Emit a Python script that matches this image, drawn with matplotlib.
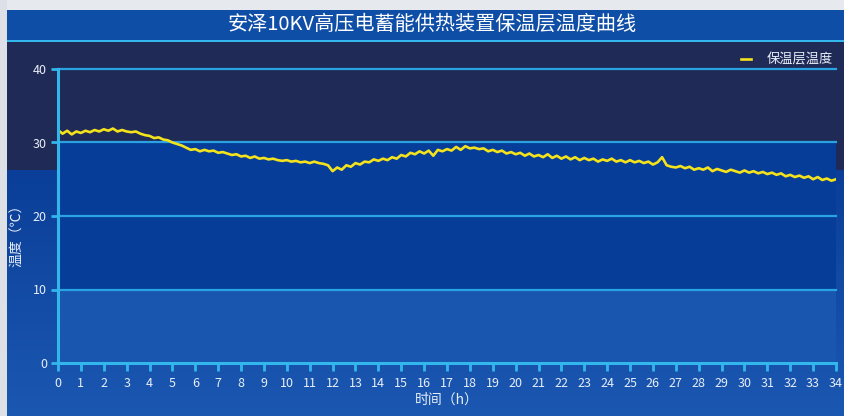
import numpy as np
import matplotlib
matplotlib.use("Agg")
import matplotlib.pyplot as plt
from matplotlib.colors import to_rgb

plt.rcParams['font.family'] = ['Noto Sans CJK SC', 'DejaVu Sans']

# ---- data -------------------------------------------------------------
title = "安泽10KV高压电蓄能供热装置保温层温度曲线"
series_name = "保温层温度"
x_label = "时间（h）"
y_label = "温度（℃）"

hours = [round(i * 0.2, 1) for i in range(171)]
temperature = [
    31.7, 31.2, 31.6, 31.1, 31.5, 31.3, 31.6, 31.4, 31.7, 31.5,
    31.8, 31.6, 31.9, 31.5, 31.7, 31.5, 31.4, 31.5, 31.2, 31.0,
    30.9, 30.6, 30.7, 30.4, 30.3, 30.0, 29.8, 29.6, 29.3, 29.0,
    29.1, 28.8, 29.0, 28.8, 28.9, 28.6, 28.7, 28.5, 28.3, 28.4,
    28.1, 28.2, 27.9, 28.1, 27.8, 27.9, 27.7, 27.8, 27.6, 27.5,
    27.6, 27.4, 27.5, 27.3, 27.4, 27.2, 27.4, 27.2, 27.1, 26.9,
    26.1, 26.6, 26.3, 26.9, 26.7, 27.2, 27.0, 27.4, 27.3, 27.7,
    27.5, 27.8, 27.6, 28.0, 27.8, 28.3, 28.1, 28.6, 28.4, 28.8,
    28.5, 28.9, 28.2, 29.0, 28.8, 29.1, 28.9, 29.4, 29.0, 29.5,
    29.2, 29.3, 29.1, 29.2, 28.8, 29.0, 28.7, 28.9, 28.5, 28.7,
    28.4, 28.6, 28.2, 28.5, 28.1, 28.3, 28.0, 28.4, 27.9, 28.2,
    27.8, 28.1, 27.7, 28.0, 27.6, 27.9, 27.6, 27.8, 27.4, 27.7,
    27.5, 27.8, 27.4, 27.6, 27.3, 27.6, 27.3, 27.5, 27.2, 27.4,
    27.0, 27.3, 28.0, 26.9, 26.7, 26.6, 26.8, 26.5, 26.7, 26.3,
    26.5, 26.3, 26.6, 26.1, 26.4, 26.2, 26.0, 26.3, 26.1, 25.9,
    26.2, 25.9, 26.1, 25.8, 26.0, 25.7, 25.9, 25.6, 25.8, 25.4,
    25.6, 25.3, 25.5, 25.2, 25.4, 25.0, 25.3, 24.9, 25.1, 24.8,
    25.0,
]
x_ticks = list(range(0, 35))
y_ticks = [0, 10, 20, 30, 40]

# ---- colours ----------------------------------------------------------
NAVY = "#1f2a56"
BLUE_MID = "#053d99"
BLUE_LOW = "#1856af"
CYAN = "#33b6ec"
GRID = "#2aa3e2"
LINE = "#f4e21c"
TEXT = "#e8eef8"

W, H = 844, 416
fig = plt.figure(figsize=(W / 100, H / 100), dpi=100)

# ---- page background --------------------------------------------------
bg = np.zeros((H, W, 3))
bg[:] = to_rgb(NAVY)
top_blue = np.array(to_rgb("#0a3e98"))
bot_blue = np.array(to_rgb("#1b58b2"))
rows = np.arange(170, H)
t = ((rows - 170) / (H - 170))[:, None]
bg[170:, :, :] = (top_blue * (1 - t) + bot_blue * t)[:, None, :]
bg[10:40, 7:, :] = to_rgb("#0f4ea6")          # title bar
bg[40:42, 7:, :] = to_rgb(CYAN)               # title underline
bg[:10, :, :] = to_rgb("#e6e9ee")              # page margin
bg[:, :7, :] = to_rgb("#dde1e7")

bg_ax = fig.add_axes([0, 0, 1, 1])
bg_ax.imshow(bg, aspect="auto", extent=[0, W, H, 0], interpolation="nearest")
bg_ax.set_axis_off()

fig.text(0.512, 1 - 24 / H, title, ha="center", va="center",
         color="white", fontsize=14.5)

# ---- plot area --------------------------------------------------------
ax = fig.add_axes([58 / W, (H - 363) / H, (836 - 58) / W, (363 - 69) / H])
ax.set_facecolor("none")
ax.set_xlim(0, 34)
ax.set_ylim(0, 40)

ax.axhspan(30, 40, color=NAVY, lw=0, zorder=0)
ax.axhspan(10, 30, color=BLUE_MID, lw=0, zorder=0)
ax.axhspan(0, 10, color=BLUE_LOW, lw=0, zorder=0)

for yv in y_ticks[1:]:
    ax.axhline(yv, color=GRID, lw=1.6, zorder=1, clip_on=False)

ax.plot(hours, temperature, color=LINE, lw=1.9, zorder=3, label=series_name)

for side in ("top", "right"):
    ax.spines[side].set_visible(False)
for side in ("left", "bottom"):
    ax.spines[side].set_color(CYAN)
    ax.spines[side].set_linewidth(2.2)
    ax.spines[side].set_zorder(4)

ax.set_xticks(x_ticks)
ax.set_yticks(y_ticks)
ax.tick_params(axis="x", colors=CYAN, direction="out", length=6, width=2,
               labelcolor=TEXT, labelsize=9, pad=4)
ax.tick_params(axis="y", colors=CYAN, direction="out", length=5, width=2,
               labelcolor=TEXT, labelsize=9, pad=3)

ax.set_xlabel(x_label, color=TEXT, fontsize=10, labelpad=2)
fig.text(17 / W, 1 - 232 / H, y_label, rotation=90, ha="center", va="center",
         color=TEXT, fontsize=10)

leg = ax.legend(loc="lower right", bbox_to_anchor=(1.0, 1.0), frameon=False,
                fontsize=9.5, labelcolor=TEXT, handlelength=0.8,
                handletextpad=1.2, borderpad=0.1, borderaxespad=0.1)

fig.savefig("out.png", dpi=100)
